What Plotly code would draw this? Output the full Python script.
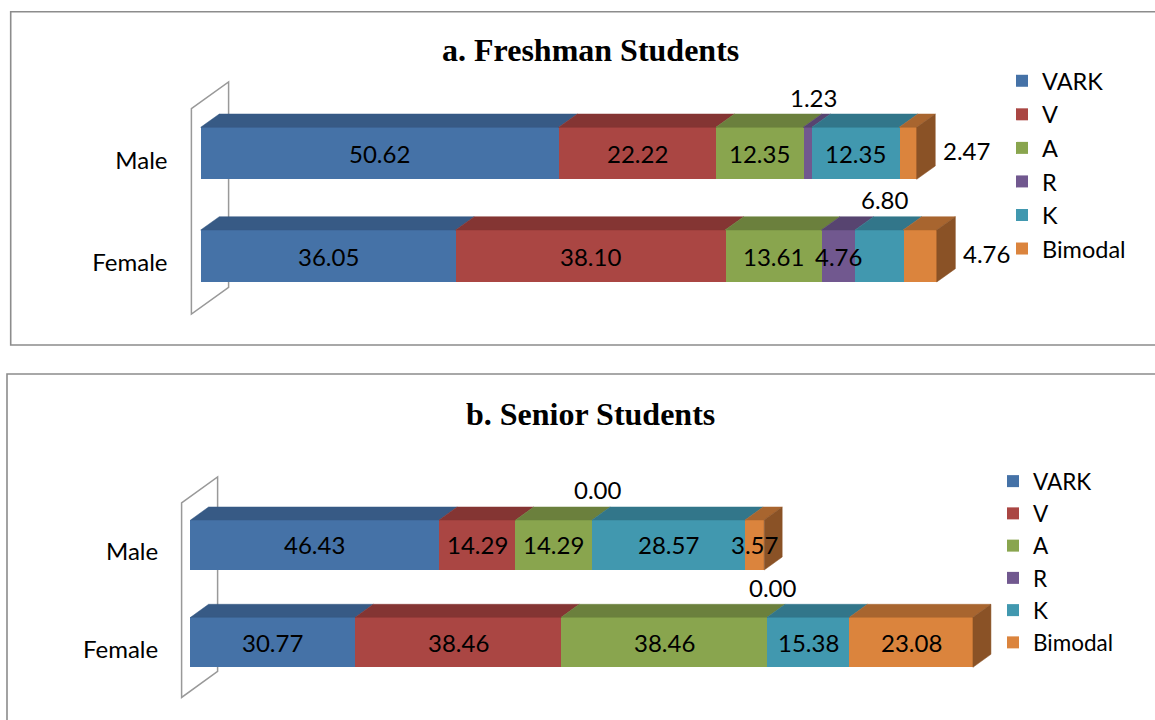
import plotly.graph_objects as go

W, H = 1155, 720

# ---------------- data ----------------
series = ["VARK", "V", "A", "R", "K", "Bimodal"]
categories = ["Male", "Female"]
titles = ["a. Freshman Students", "b. Senior Students"]

fresh_male = [50.62, 22.22, 12.35, 1.23, 12.35, 2.47]
fresh_female = [36.05, 38.10, 13.61, 4.76, 6.80, 4.76]
senior_male = [46.43, 14.29, 14.29, 0.00, 28.57, 3.57]
senior_female = [30.77, 38.46, 38.46, 0.00, 15.38, 23.08]

# ---------------- style ----------------
front_colors = ["#4572A7", "#AA4643", "#89A54E", "#71588F", "#4198AF", "#DB843D"]
top_colors = ["#375A85", "#843533", "#6B803D", "#574470", "#32768A", "#A8652F"]
side_colors = ["#2E4B6E", "#6E2B29", "#586A32", "#48385D", "#295F70", "#8A5226"]

# label placement per series ('in', 'above', 'right')
label_mode = [
    [["in", "in", "in", "above", "in", "right"], ["in", "in", "in", "in", "above", "right"]],
    [["in", "in", "in", "above", "in", "in"], ["in", "in", "in", "above", "in", "in"]],
]

panels = [
    dict(values=[fresh_male, fresh_female], xpx0=200.7, ppx=7.072, ypx1=153.3, ppy=102.7,
         xr=[-2, 125], yr=[-0.75, 1.75], dx=18.6, dy=13.3, barw=0.506,
         box=(10.7, 11.7, 1170, 345), title_y=50, leg=(1002, 59), legfont=23.5),
    dict(values=[senior_male, senior_female], xpx0=190.6, ppx=5.353, ypx1=545.0, ppy=97.3,
         xr=[-2.5, 165], yr=[-0.75, 1.75], dx=18.0, dy=13.0, barw=0.514,
         box=(7.0, 374.0, 1170, 740), title_y=414, leg=(993, 460), legfont=22.5),
]

FONT = "Lato"
LABEL_SIZE = 24


def xpx(p, x):
    return p["xpx0"] + x * p["ppx"]


def ypx(p, y):
    return p["ypx1"] - (y - 1) * p["ppy"]


fig = go.Figure()
shapes = []
annotations = []
layout_axes = {}

for k, p in enumerate(panels):
    sfx = "" if k == 0 else str(k + 1)
    xa, ya = "x" + sfx, "y" + sfx
    legname = "legend" if k == 0 else "legend2"
    ncat = len(categories)
    ypos = [ncat - 1 - j for j in range(ncat)]
    ddx = p["dx"] / p["ppx"]
    ddy = p["dy"] / p["ppy"]
    w = p["barw"]

    # front faces (native stacked bars)
    for i, s in enumerate(series):
        fig.add_trace(go.Bar(
            x=[p["values"][j][i] for j in range(ncat)], y=ypos, orientation="h",
            name=s, marker=dict(color=front_colors[i], line=dict(width=0)),
            width=w, xaxis=xa, yaxis=ya, legend=legname, hoverinfo="skip",
        ))

    # top faces and end side faces
    for i, s in enumerate(series):
        tx, ty = [], []
        for j in range(ncat):
            vals = p["values"][j]
            v = vals[i]
            if v <= 0:
                continue
            x0 = sum(vals[:i])
            x1 = x0 + v
            yt = ypos[j] + w / 2
            tx += [x0, x1, x1 + ddx, x0 + ddx, x0, None]
            ty += [yt, yt, yt + ddy, yt + ddy, yt, None]
        if tx:
            fig.add_trace(go.Scatter(
                x=tx, y=ty, mode="lines", fill="toself", fillcolor=top_colors[i],
                line=dict(color=top_colors[i], width=0.5), showlegend=False,
                hoverinfo="skip", xaxis=xa, yaxis=ya,
            ))
    for j in range(ncat):
        vals = p["values"][j]
        last = max(i for i, v in enumerate(vals) if v > 0)
        xe = sum(vals)
        yb, yt = ypos[j] - w / 2, ypos[j] + w / 2
        fig.add_trace(go.Scatter(
            x=[xe, xe, xe + ddx, xe + ddx, xe], y=[yb, yt, yt + ddy, yb + ddy, yb],
            mode="lines", fill="toself", fillcolor=side_colors[last],
            line=dict(color=side_colors[last], width=0.5), showlegend=False,
            hoverinfo="skip", xaxis=xa, yaxis=ya,
        ))

    # data labels
    for j in range(ncat):
        vals = p["values"][j]
        for i, v in enumerate(vals):
            mode = label_mode[k][j][i]
            mid = sum(vals[:i]) + v / 2
            a = dict(xref=xa, yref=ya, showarrow=False, text=f"{v:.2f}",
                     font=dict(family=FONT, size=LABEL_SIZE, color="black"))
            if mode == "in":
                a.update(x=mid, y=ypos[j])
            elif mode == "above":
                a.update(x=mid, y=ypos[j] + w / 2 + ddy, xshift=6, yshift=17)
            else:
                a.update(x=sum(vals) + ddx, y=ypos[j], xanchor="left", xshift=6, yshift=3)
            annotations.append(a)

    # axes
    xdom = [xpx(p, p["xr"][0]) / W, xpx(p, p["xr"][1]) / W]
    ydom = [1 - ypx(p, p["yr"][0]) / H, 1 - ypx(p, p["yr"][1]) / H]
    layout_axes["xaxis" + sfx] = dict(domain=xdom, range=p["xr"], visible=False,
                                      anchor=ya, fixedrange=True)
    layout_axes["yaxis" + sfx] = dict(domain=ydom, range=p["yr"], anchor=xa,
                                      tickvals=ypos, ticktext=categories,
                                      tickfont=dict(family=FONT, size=LABEL_SIZE, color="black"),
                                      showgrid=False, zeroline=False, showline=False,
                                      ticks="", ticklabelshift=7, ticklabelstandoff=18,
                                      fixedrange=True)
    layout_axes[legname] = dict(x=p["leg"][0] / W, y=1 - p["leg"][1] / H,
                                xanchor="left", yanchor="top", traceorder="normal",
                                bgcolor="rgba(0,0,0,0)",
                                font=dict(family=FONT, size=p["legfont"], color="black"))

    # chart box
    bx0, by0, bx1, by1 = p["box"]
    shapes.append(dict(type="rect", xref="paper", yref="paper",
                       x0=bx0 / W, x1=bx1 / W, y0=1 - by0 / H, y1=1 - by1 / H,
                       line=dict(color="#8C8C8C", width=1.6), layer="below"))

    # back wall of the 3-D category axis
    lo, hi = -0.5, ncat - 0.5
    pts = [(xpx(p, 0) - 0.5 * p["dx"], ypx(p, hi) + 0.5 * p["dy"]),
           (xpx(p, 0) + 1.5 * p["dx"], ypx(p, hi) - 1.5 * p["dy"]),
           (xpx(p, 0) + 1.5 * p["dx"], ypx(p, lo) - 1.5 * p["dy"]),
           (xpx(p, 0) - 0.5 * p["dx"], ypx(p, lo) + 0.5 * p["dy"])]
    path = "M " + " L ".join(f"{px / W:.5f},{1 - py / H:.5f}" for px, py in pts) + " Z"
    shapes.append(dict(type="path", xref="paper", yref="paper", path=path,
                       line=dict(color="#999999", width=1.5),
                       fillcolor="rgba(0,0,0,0)", layer="below"))

    # title
    annotations.append(dict(xref="paper", yref="paper", x=590 / W, y=1 - p["title_y"] / H,
                            text=f"<b>{titles[k]}</b>", showarrow=False,
                            font=dict(family="Liberation Serif", size=32, color="black"),
                            xanchor="center", yanchor="middle"))

fig.update_layout(
    width=W, height=H, margin=dict(l=0, r=0, t=0, b=0),
    barmode="stack", bargap=0, paper_bgcolor="white", plot_bgcolor="rgba(0,0,0,0)",
    shapes=shapes, annotations=annotations, **layout_axes,
)

fig.write_html("out.html")
